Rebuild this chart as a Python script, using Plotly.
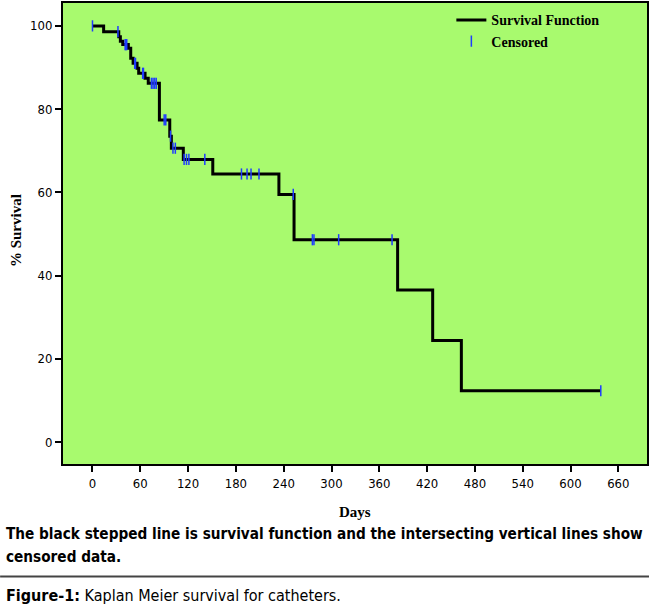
import plotly.graph_objects as go

# Kaplan-Meier step function (event times in days, survival %)
event_days = [0, 14, 33, 35, 38, 45, 48, 51, 56, 58, 66, 70, 84, 97, 99, 114, 151, 234, 253, 383, 427, 463, 638]
survival = [100, 98.6, 97.4, 96.3, 95.5, 94.6, 92.2, 91.0, 89.8, 88.6, 87.4, 86.2, 77.4, 73.5, 70.6, 67.9, 64.4, 59.5, 48.6, 36.5, 24.4, 12.3, 12.3]

# Censored observations
censor_days = [0, 32, 41, 42, 43, 53, 54, 63, 64, 74, 76, 78, 80, 90, 92, 98, 101, 104,
               115, 118, 121, 141, 187, 194, 199, 209, 252, 276, 278, 309, 376, 638]

x_ticks = [0, 60, 120, 180, 240, 300, 360, 420, 480, 540, 600, 660]
y_ticks = [0, 20, 40, 60, 80, 100]


def surv_at(t):
    s = survival[0]
    for d, v in zip(event_days, survival):
        if d <= t:
            s = v
    return s


censor_surv = [surv_at(t) for t in censor_days]

fig = go.Figure()
fig.add_trace(go.Scatter(
    x=event_days, y=survival, mode="lines", line_shape="hv",
    line=dict(color="black", width=3), name="Survival Function"))
fig.add_trace(go.Scatter(
    x=censor_days, y=censor_surv, mode="markers", name="Censored",
    marker=dict(symbol="line-ns", size=8, line=dict(color="#1f3cff", width=1.5))))

COND = "DejaVu Sans Condensed, Liberation Sans Narrow, Liberation Sans"
tick_font = dict(family=COND, size=13, color="black")

fig.update_layout(
    width=650, height=609,
    margin=dict(l=63, r=2, t=1, b=145),
    paper_bgcolor="white", plot_bgcolor="#a8fa6e",
    showlegend=True,
    legend=dict(x=0.665, y=0.997, xanchor="left", yanchor="top",
                bgcolor="rgba(0,0,0,0)", borderwidth=0,
                font=dict(family="Liberation Serif", size=14, color="black", weight="bold"),
                itemwidth=30, tracegroupgap=0),
    xaxis=dict(range=[-37, 696], tickvals=x_ticks, ticktext=[str(v) for v in x_ticks],
               showgrid=False, zeroline=False, showline=True, linecolor="black", linewidth=2,
               mirror=True, ticks="outside", ticklen=6, tickwidth=2, tickcolor="black",
               tickfont=tick_font),
    yaxis=dict(range=[-5.3, 105.5], tickvals=y_ticks, ticktext=[str(v) for v in y_ticks],
               showgrid=False, zeroline=False, showline=True, linecolor="black", linewidth=2,
               mirror=True, ticks="outside", ticklen=6, tickwidth=2, tickcolor="black",
               tickfont=tick_font),
)


def py(pix):
    return (464 - pix) / 463


def px(pix):
    return (pix - 63) / 585


annos = [
    dict(text="<b>Days</b>", x=0.5, y=py(512), xanchor="center", yanchor="middle",
         font=dict(family="Liberation Serif", size=15, color="black")),
    dict(text="<b>% Survival</b>", x=px(16), y=py(230), xanchor="center", yanchor="middle",
         textangle=-90, font=dict(family="Liberation Serif", size=15, color="black")),
    dict(text="<b>The black stepped line is survival function and the intersecting vertical lines show</b>",
         x=px(4), y=py(534), xanchor="left", yanchor="middle",
         font=dict(family=COND, size=15.2, color="black")),
    dict(text="<b>censored data.</b>",
         x=px(4), y=py(557), xanchor="left", yanchor="middle",
         font=dict(family=COND, size=15.2, color="black")),
    dict(text="<b>Figure-1:</b> Kaplan Meier survival for catheters.",
         x=px(4), y=py(596), xanchor="left", yanchor="middle",
         font=dict(family=COND, size=16, color="black")),
]
for a in annos:
    a.update(xref="paper", yref="paper", showarrow=False)
fig.update_layout(annotations=annos)

fig.add_shape(type="line", xref="paper", yref="paper",
              x0=px(0), x1=px(650), y0=py(577), y1=py(577),
              line=dict(color="#444444", width=2))

fig.write_html("out.html", config={"displayModeBar": False},
               post_script="document.body.style.margin='0';")
